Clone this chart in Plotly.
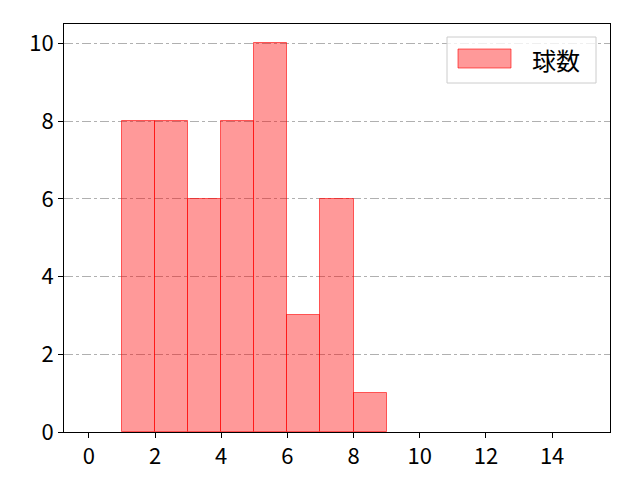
import plotly.graph_objects as go

bin_left = [1, 2, 3, 4, 5, 6, 7, 8]
counts = [8, 8, 6, 8, 10, 3, 6, 1]
series_name = "球数"
x_ticks = [0, 2, 4, 6, 8, 10, 12, 14]
y_ticks = [0, 2, 4, 6, 8, 10]

FONT = "Noto Sans CJK JP, DejaVu Sans, sans-serif"

fig = go.Figure()
fig.add_trace(go.Bar(
    x=[b + 0.5 for b in bin_left],
    y=counts,
    width=[1] * len(bin_left),
    marker=dict(color="rgba(255,0,0,0.4)",
                line=dict(color="rgba(255,0,0,0.6)", width=1)),
    name=series_name,
    showlegend=False,
))

axis_common = dict(
    showline=True, linecolor="black", linewidth=1, mirror=True,
    ticks="outside", ticklen=5, tickwidth=1, tickcolor="black",
    tickfont=dict(family=FONT, size=22, color="black"),
    zeroline=False, automargin=False,
)
fig.update_xaxes(range=[-0.75, 15.75], tickvals=x_ticks, showgrid=False, **axis_common)
fig.update_yaxes(range=[0, 10.5], tickvals=y_ticks, showgrid=True,
                 gridcolor="#b0b0b0", griddash="dashdot", gridwidth=1, **axis_common)

# legend box (drawn in paper coords to mimic matplotlib legend)
W, H = 546, 408
def px(x):
    return (x - 64) / W
def py(y):
    return (432 - y) / H

fig.add_shape(type="rect", xref="paper", yref="paper",
              x0=px(447), x1=px(596), y0=py(83), y1=py(37),
              line=dict(color="#cccccc", width=1), fillcolor="rgba(255,255,255,0.8)")
fig.add_shape(type="rect", xref="paper", yref="paper",
              x0=px(458), x1=px(511), y0=py(68), y1=py(49),
              line=dict(color="rgba(255,0,0,0.6)", width=1), fillcolor="rgba(255,0,0,0.4)")
fig.add_annotation(xref="paper", yref="paper", x=px(530), y=py(59),
                   text=series_name, showarrow=False, xanchor="left", yanchor="middle",
                   font=dict(family=FONT, size=24, color="black"))

fig.update_layout(
    width=632, height=472,
    margin=dict(l=56, r=30, t=16, b=48),
    plot_bgcolor="white", paper_bgcolor="white",
    bargap=0,
    font=dict(family=FONT),
)
fig.write_html("out.html")
